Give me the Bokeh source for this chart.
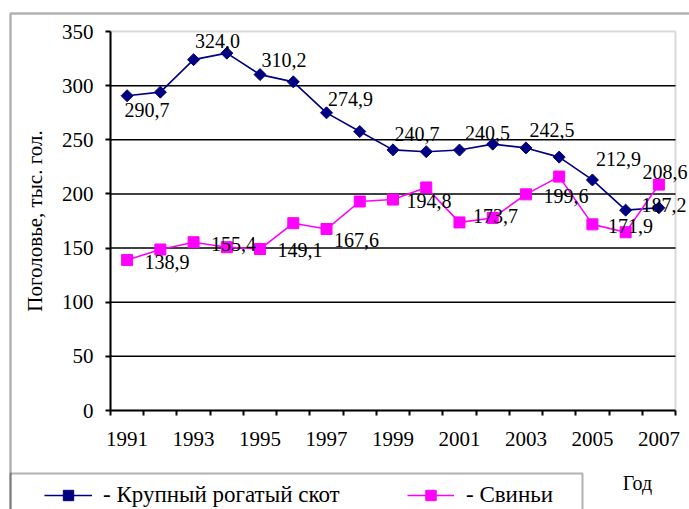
import numpy as np
from bokeh.plotting import figure
from bokeh.models import (Range1d, FixedTicker, ColumnDataSource, LabelSet, Legend,
                          LegendItem, BoxAnnotation, Label)
from bokeh.embed import file_html
from bokeh.resources import INLINE

# ---------------- data ----------------
years = list(range(1991, 2008))
cattle = [290.7, 294.0, 324.0, 330.0, 310.2, 303.5, 274.9, 257.6, 240.7,
          239.0, 240.5, 246.0, 242.5, 234.0, 212.9, 185.0, 187.2]
pigs = [138.9, 148.7, 155.4, 150.8, 149.1, 173.0, 167.6, 193.0, 194.8,
        206.0, 173.7, 177.8, 199.6, 216.0, 171.9, 164.6, 208.6]
labelled_years = [1991, 1993, 1995, 1997, 1999, 2001, 2003, 2005, 2007]
y_ticks = [0, 50, 100, 150, 200, 250, 300, 350]
series_names = ["- Крупный рогатый скот", "- Свиньи"]
y_title = "Поголовье, тыс. гол."
x_title = "Год"

# ---------------- layout / styles (pixels) ----------------
FONT = "'Liberation Serif', serif"
NAVY = "#000080"
MAGENTA = "#FF00FF"
W, H = 689, 509
PX_LEFT, PX_RIGHT, PX_TOP, PX_BOTTOM = 110, 675, 31, 410
cattle_dx = [20, 24, 24, 24, 24, 28, 26, 26, 5]
cattle_dy = [14.5, -19, -15, -14, -16, -17, -18, -21, -3]
pig_dx = [40, 40, 40, 30, 36, 36, 40, 38, 6]
pig_dy = [2, 2, 1, 11, 1, -6, 2, 2, -13]

x0, x1 = years[0] - 0.5, years[-1] + 0.5
y0, y1 = y_ticks[0], y_ticks[-1]
kx = (PX_RIGHT - PX_LEFT) / (x1 - x0)
ky = (PX_BOTTOM - PX_TOP) / (y1 - y0)
x_range = Range1d(x0 - PX_LEFT / kx, x1 + (W - PX_RIGHT) / kx)
y_range = Range1d(y0 - (H - PX_BOTTOM) / ky, y1 + PX_TOP / ky)

p = figure(width=W, height=H, output_backend="svg", toolbar_location=None,
           x_range=x_range, y_range=y_range,
           min_border_left=0, min_border_right=0, min_border_top=0,
           min_border_bottom=0)
p.background_fill_color = "white"
p.border_fill_color = "white"
p.outline_line_color = None
p.xgrid.grid_line_color = None
p.ygrid.grid_line_color = None

# plot-area border (gray), under the axes
p.add_layout(BoxAnnotation(left=x0, right=x1, bottom=y0, top=y1,
                           fill_alpha=0, line_color="#808080", line_width=2,
                           level="underlay"))

# horizontal gridlines, limited to the plot area
inner = y_ticks[1:-1]
p.segment(x0=[x0] * len(inner), x1=[x1] * len(inner), y0=inner, y1=inner,
          line_color="black", line_width=1.5)

# axes at fixed positions inside the canvas-sized frame
p.xaxis.fixed_location = y0
p.xaxis.bounds = (x0, x1)
p.xaxis.ticker = FixedTicker(ticks=labelled_years,
                             minor_ticks=[y - 0.5 for y in years] + [x1])
p.xaxis.major_tick_line_color = None
p.xaxis.major_tick_out = 0
p.xaxis.major_tick_in = 0
p.xaxis.minor_tick_line_color = "black"
p.xaxis.minor_tick_line_width = 2
p.xaxis.minor_tick_out = 5
p.xaxis.minor_tick_in = 0
p.xaxis.major_label_standoff = 16

p.yaxis.fixed_location = x0
p.yaxis.bounds = (y0, y1)
p.yaxis.ticker = FixedTicker(ticks=y_ticks)
p.yaxis.minor_tick_line_color = None
p.yaxis.major_tick_line_color = "black"
p.yaxis.major_tick_line_width = 2
p.yaxis.major_tick_out = 5
p.yaxis.major_tick_in = 0
p.yaxis.major_label_standoff = 12
p.yaxis.axis_label = y_title
p.yaxis.axis_label_text_font = FONT
p.yaxis.axis_label_text_font_size = "21px"
p.yaxis.axis_label_text_font_style = "normal"
p.yaxis.axis_label_text_color = "black"
p.yaxis.axis_label_standoff = 12
for ax in (p.xaxis, p.yaxis):
    ax.axis_line_color = "black"
    ax.axis_line_width = 2
    ax.major_label_text_font = FONT
    ax.major_label_text_font_size = "21px"
    ax.major_label_text_color = "black"

# series
l1 = p.line(years, cattle, line_color=NAVY, line_width=1.6)
s1 = p.scatter(years, cattle, marker="square", angle=np.pi / 4, size=8.5,
               fill_color=NAVY, line_color=NAVY)
l2 = p.line(years, pigs, line_color=MAGENTA, line_width=1.6)
s2 = p.scatter(years, pigs, marker="square", size=11,
               fill_color=MAGENTA, line_color=MAGENTA)

# data labels
def fmt(v):
    return f"{v:.1f}".replace(".", ",")

idx = [years.index(y) for y in labelled_years]
for vals, dx, dy in ((cattle, cattle_dx, cattle_dy), (pigs, pig_dx, pig_dy)):
    src = ColumnDataSource(dict(
        x=labelled_years, y=[vals[i] for i in idx],
        t=[fmt(vals[i]) for i in idx],
        dx=dx, dy=[-d for d in dy]))
    p.add_layout(LabelSet(x="x", y="y", text="t", source=src,
                          x_offset="dx", y_offset="dy",
                          text_align="center", text_baseline="middle",
                          text_font=FONT, text_font_size="20px",
                          text_color="black"))

# outer chart border and legend box (canvas pixels, top-down)
p.add_layout(BoxAnnotation(left=10, right=3000, top=13, bottom=3000,
                           left_units="canvas", right_units="canvas",
                           top_units="canvas", bottom_units="canvas",
                           fill_alpha=0, line_color="black", line_width=2.5))
p.add_layout(BoxAnnotation(left=10, right=582, top=473, bottom=3000,
                           left_units="canvas", right_units="canvas",
                           top_units="canvas", bottom_units="canvas",
                           fill_alpha=0, line_color="black", line_width=2))

# legend entries
for name, rends, vx, gw, st in ((series_names[0], [l1, s1], 44, 48, 11),
                                (series_names[1], [l2, s2], 407, 47, 12)):
    leg = Legend(items=[LegendItem(label=name, renderers=rends)],
                 location=(vx, 1), orientation="horizontal",
                 padding=0, margin=0, spacing=0,
                 background_fill_alpha=0, border_line_alpha=0,
                 glyph_width=gw, glyph_height=26, label_standoff=st,
                 label_height=26, label_text_font=FONT,
                 label_text_font_size="23px", label_text_color="black",
                 label_text_baseline="middle")
    p.add_layout(leg)

p.add_layout(Label(x=637, y=482, x_units="canvas", y_units="canvas",
                   text=x_title, text_align="center", text_baseline="middle",
                   text_font=FONT, text_font_size="20px", text_color="black"))

open("out.html", "w").write(file_html(p, INLINE))
